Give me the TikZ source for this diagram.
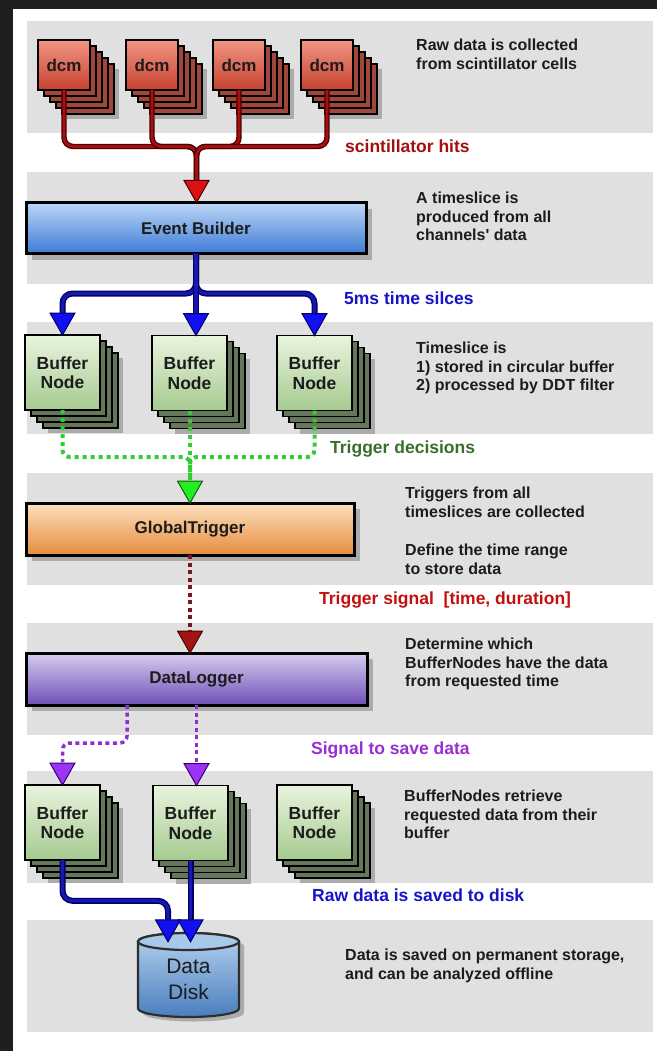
\documentclass[tikz,border=0pt]{standalone}
\usepackage{fontspec}
\setmainfont{Liberation Sans}
\usetikzlibrary{calc}

\pgfdeclarelayer{page}
\pgfdeclarelayer{bands}
\pgfdeclarelayer{behind}
\pgfsetlayers{page,bands,behind,main}

\definecolor{framedark}{HTML}{1F1F1F}
\definecolor{bandgray}{HTML}{E0E0E0}
\definecolor{ink}{HTML}{1C1C1C}
\definecolor{shadowgray}{HTML}{ABABAB}
\definecolor{dcmtop}{HTML}{F39484}
\definecolor{dcmbot}{HTML}{C6422F}
\definecolor{dcmback}{HTML}{A0463A}
\definecolor{buftop}{HTML}{E8F4DE}
\definecolor{bufbot}{HTML}{A6CA90}
\definecolor{bufback}{HTML}{65765A}
\definecolor{ebtop}{HTML}{BCD7F6}
\definecolor{ebbot}{HTML}{3E7BD6}
\definecolor{gttop}{HTML}{FDE0BE}
\definecolor{gtbot}{HTML}{E68C3C}
\definecolor{dltop}{HTML}{D6CCEE}
\definecolor{dlbot}{HTML}{7050B8}
\definecolor{disktop}{HTML}{B4D2EE}
\definecolor{diskbot}{HTML}{4A7EBE}
\definecolor{diskface}{HTML}{A8C8EA}
\definecolor{diskline}{HTML}{2E2E2E}
\definecolor{hitred}{HTML}{A80E0E}
\definecolor{hitdark}{HTML}{4A0000}
\definecolor{headred}{HTML}{DD1111}
\definecolor{sliceblue}{HTML}{1818B0}
\definecolor{slicedark}{HTML}{000064}
\definecolor{headblue}{HTML}{1010F0}
\definecolor{trigreen}{HTML}{33CC33}
\definecolor{headgreen}{HTML}{22EE22}
\definecolor{headgreenline}{HTML}{106010}
\definecolor{decgreen}{HTML}{3B6E2C}
\definecolor{sigred}{HTML}{7A1525}
\definecolor{headdarkred}{HTML}{A31414}
\definecolor{savepurple}{HTML}{8E2ED6}
\definecolor{headpurple}{HTML}{9A35F5}
\definecolor{headpurpleline}{HTML}{3A0070}
\definecolor{lblred}{HTML}{A50F0F}
\definecolor{lblblue}{HTML}{1515C8}
\definecolor{lblred2}{HTML}{C40F0F}
\definecolor{lblpurple}{HTML}{9A2ED2}

\tikzset{
  note/.style={anchor=north west, inner sep=0pt, align=left, text=ink,
    font=\fontsize{16}{18.5}\selectfont\bfseries},
  flowlabel/.style={anchor=north west, inner sep=0pt,
    font=\fontsize{17.5}{20}\selectfont\bfseries},
  dcmbox/.style={draw=black, line width=1.6pt, outer sep=0pt, inner sep=0pt,
    minimum width=52pt, minimum height=50pt, top color=dcmtop, bottom color=dcmbot,
    text=ink, font=\fontsize{17}{20}\selectfont\bfseries},
  bufbox/.style={draw=black, line width=1.8pt, outer sep=0pt, inner sep=0pt,
    minimum width=75pt, minimum height=75pt, top color=buftop, bottom color=bufbot,
    align=center, text=ink, font=\fontsize{17.5}{19.5}\selectfont\bfseries},
  stagebox/.style={draw=black, line width=3pt, outer sep=0pt, inner sep=0pt,
    minimum height=51pt, text=ink, font=\fontsize{17}{20}\selectfont\bfseries},
  layerbox/.style={draw=black, line width=1.6pt},
  boxshadow/.style={fill=shadowgray},
  hitwire/.style={draw=hitred, line width=2.8pt, rounded corners=9pt,
    preaction={draw=hitdark, line width=5.4pt}},
  slicewire/.style={draw=sliceblue, line width=3.2pt, rounded corners=10pt,
    preaction={draw=slicedark, line width=6pt}},
  trigdots/.style={draw=trigreen, line width=4pt, dash pattern=on 4pt off 4pt,
    rounded corners=7pt},
  sigdots/.style={draw=sigred, line width=3.5pt, dash pattern=on 4pt off 3.5pt},
  savedots/.style={draw=savepurple, line width=3.5pt, dash pattern=on 4pt off 3.5pt,
    rounded corners=7pt},
  pics/head/.style={code={
    \draw[pic actions, line width=1pt, line join=miter]
      (0,0) -- (-12.5,-22) -- (12.5,-22) -- cycle;}},
}

% layers stacked behind a front node, with a grey shadow under the last one
\newcommand\pileunder[4]{%
  \begin{pgfonlayer}{behind}
    \fill[boxshadow] ([shift={(#2*#3+5,#2*#3+5)}]#1.north west)
      rectangle ([shift={(#2*#3+5,#2*#3+5)}]#1.south east);
    \foreach \k in {#2,...,1}
      \draw[layerbox, fill=#4] ([shift={(\k*#3,\k*#3)}]#1.north west)
        rectangle ([shift={(\k*#3,\k*#3)}]#1.south east);
  \end{pgfonlayer}}

% flat grey shadow under a single box
\newcommand\boxunder[1]{%
  \begin{pgfonlayer}{behind}
    \fill[boxshadow] ([shift={(6,6)}]#1.north west) rectangle ([shift={(6,6)}]#1.south east);
  \end{pgfonlayer}}

\begin{document}
\begin{tikzpicture}[x=1pt, y=-1pt]
\useasboundingbox (0,0) rectangle (657,1051);

% page and frame
\begin{pgfonlayer}{page}
  \fill[framedark] (0,0) rectangle (657,1051);
  \fill[white] (13,9) rectangle (657,1051);
\end{pgfonlayer}

% stage bands
\begin{pgfonlayer}{bands}
  \foreach \t in {21,172,322,473,623,771,920}
    \fill[bandgray] (27,\t) rectangle (653,\t+112);
\end{pgfonlayer}

% ---------- data concentrator modules ----------
\node[dcmbox] (dcm1) at (64,65) {dcm};
\node[dcmbox] (dcm2) at (152,65) {dcm};
\node[dcmbox] (dcm3) at (239,65) {dcm};
\node[dcmbox] (dcm4) at (327,65) {dcm};
\foreach \d in {dcm1,dcm2,dcm3,dcm4} \pileunder{\d}{4}{6}{dcmback};

% ---------- processing stages ----------
\node[stagebox, minimum width=340pt, top color=ebtop, bottom color=ebbot] (eb) at (196,228) {Event Builder};
\node[stagebox, minimum width=328pt, minimum height=52pt, top color=gttop, bottom color=gtbot] (gt) at (190,529) {GlobalTrigger};
\node[stagebox, minimum width=341pt, minimum height=52pt, top color=dltop, bottom color=dlbot] (dl) at (196.5,679) {DataLogger};
\boxunder{eb}\boxunder{gt}\boxunder{dl}

% ---------- buffer nodes ----------
\node[bufbox] (bn1) at (62.5,372.5) {Buffer\\Node};
\node[bufbox] (bn2) at (189.5,373) {Buffer\\Node};
\node[bufbox] (bn3) at (314.5,373) {Buffer\\Node};
\node[bufbox] (bn4) at (62.5,822.5) {Buffer\\Node};
\node[bufbox] (bn5) at (190.5,823) {Buffer\\Node};
\node[bufbox] (bn6) at (314.5,822.5) {Buffer\\Node};
\foreach \b in {bn1,bn2,bn3,bn4,bn5,bn6} \pileunder{\b}{3}{6}{bufback};

% ---------- data disk ----------
\begin{pgfonlayer}{behind}
  \fill[boxshadow] (143,946) -- (143,1013)
    arc[start angle=180, end angle=0, x radius=50.5, y radius=8.5] -- (244,946)
    arc[start angle=0, end angle=-180, x radius=50.5, y radius=8.5] -- cycle;
\end{pgfonlayer}
\shade[top color=disktop, bottom color=diskbot, draw=diskline, line width=2.2pt]
  (138,941.5) -- (138,1008.5)
  arc[start angle=180, end angle=0, x radius=50.5, y radius=8.5] -- (239,941.5)
  arc[start angle=0, end angle=-180, x radius=50.5, y radius=8.5] -- cycle;
\draw[diskline, line width=2.2pt, fill=diskface] (188.5,941.5) ellipse [x radius=50.5, y radius=8.5];
\node[minimum width=101pt, minimum height=76pt, inner sep=0pt, align=center,
  text=ink, font=\fontsize{21}{26}\selectfont] (disk) at (188.5,979) {Data\\Disk};

% ---------- scintillator hits ----------
\coordinate (ebtip) at ([shift={(0.5,0)}]eb.north);
\coordinate (ebbase) at ([shift={(0,-22)}]ebtip);
\coordinate (hitbus) at ([shift={(0,-56)}]ebtip);
\foreach \d in {dcm1,dcm2,dcm3,dcm4}
  \draw[hitwire] (\d.south) |- (hitbus) -- (ebbase);
\pic[fill=headred, draw=hitdark] at (ebtip) {head};

% ---------- time slices ----------
\coordinate (bn2tip) at (eb.south |- bn2.north);
\coordinate (slicebus) at ([shift={(0,40)}]eb.south);
\draw[slicewire] (eb.south) -- (slicebus) -| ([shift={(0,-22)}]bn1.north);
\draw[slicewire] (eb.south) -- (slicebus) -| ([shift={(0,-22)}]bn3.north);
\draw[slicewire] (eb.south) -- ([shift={(0,-22)}]bn2tip);
\pic[fill=headblue, draw=slicedark] at (bn1.north) {head};
\pic[fill=headblue, draw=slicedark] at (bn2tip) {head};
\pic[fill=headblue, draw=slicedark] at (bn3.north) {head};

% ---------- trigger decisions ----------
\coordinate (gtbase) at ([shift={(0,-23)}]gt.north);
\coordinate (trigbus) at ([shift={(0,-46)}]gt.north);
\draw[trigdots] (bn1.south) |- (trigbus) -- (gtbase);
\draw[trigdots] (bn3.south) |- (trigbus) -- (gtbase);
\draw[trigdots] (bn2.south) -- (bn2.south |- gtbase);
\pic[fill=headgreen, draw=headgreenline] at (gt.north) {head};

% ---------- trigger signal ----------
\coordinate (dltip) at (gt.south |- dl.north);
\draw[sigdots] (gt.south) -- ([shift={(0,-21)}]dltip);
\pic[fill=headdarkred, draw=hitdark] at (dltip) {head};

% ---------- save requests ----------
\coordinate (dlout) at ([shift={(-69.5,0)}]dl.south);
\coordinate (bn5tip) at (dl.south |- bn5.north);
\draw[savedots] (dlout) -- ++(0,38) -| ([shift={(0,-23)}]bn4.north);
\draw[savedots] (dl.south) -- ([shift={(0,-23)}]bn5tip);
\pic[fill=headpurple, draw=headpurpleline] at (bn4.north) {head};
\pic[fill=headpurple, draw=headpurpleline] at (bn5tip) {head};

% ---------- raw data to disk ----------
\coordinate (dk1) at ([shift={(-20.5,1)}]disk.north);
\coordinate (dk2) at (bn5.south |- dk1);
\draw[slicewire] (bn4.south) |- ([shift={(0,-41)}]dk1) -- ([shift={(0,-22)}]dk1);
\draw[slicewire] (bn5.south) -- ([shift={(0,-22)}]dk2);
\pic[fill=headblue, draw=slicedark] at (dk1) {head};
\pic[fill=headblue, draw=slicedark] at (dk2) {head};

% ---------- flow labels ----------
\node[flowlabel, text=lblred] (lhits) at (345,140) {scintillator hits};
\node[flowlabel, text=lblblue] (lslices) at (344,292) {5ms time silces};
\node[flowlabel, text=decgreen] (ldec) at (330,441) {Trigger decisions};
\node[flowlabel, text=lblred2] (lsig) at (319,592) {Trigger signal\ \ [time, duration]};
\node[flowlabel, text=lblpurple] (lsave) at (311,742) {Signal to save data};
\node[flowlabel, text=lblblue] (lraw) at (312,889) {Raw data is saved to disk};

% ---------- stage notes ----------
\node[note] (n1) at (416,39) {Raw data is collected\\from scintillator cells};
\node[note] (n2) at (416,192) {A timeslice is\\produced from all\\channels\textquotesingle{} data};
\node[note] (n3) at (416,342) {Timeslice is\\1) stored in circular buffer\\2) processed by DDT filter};
\node[note] (n4) at (405,487) {Triggers from all\\timeslices are collected};
\node[note] (n5) at (405,544) {Define the time range\\to store data};
\node[note] (n6) at (405,638) {Determine which\\BufferNodes have the data\\from requested time};
\node[note] (n7) at (404,790) {BufferNodes retrieve\\requested data from their\\buffer};
\node[note] (n8) at (345,949) {Data is saved on permanent storage,\\and can be analyzed offline};
\end{tikzpicture}
\end{document}
